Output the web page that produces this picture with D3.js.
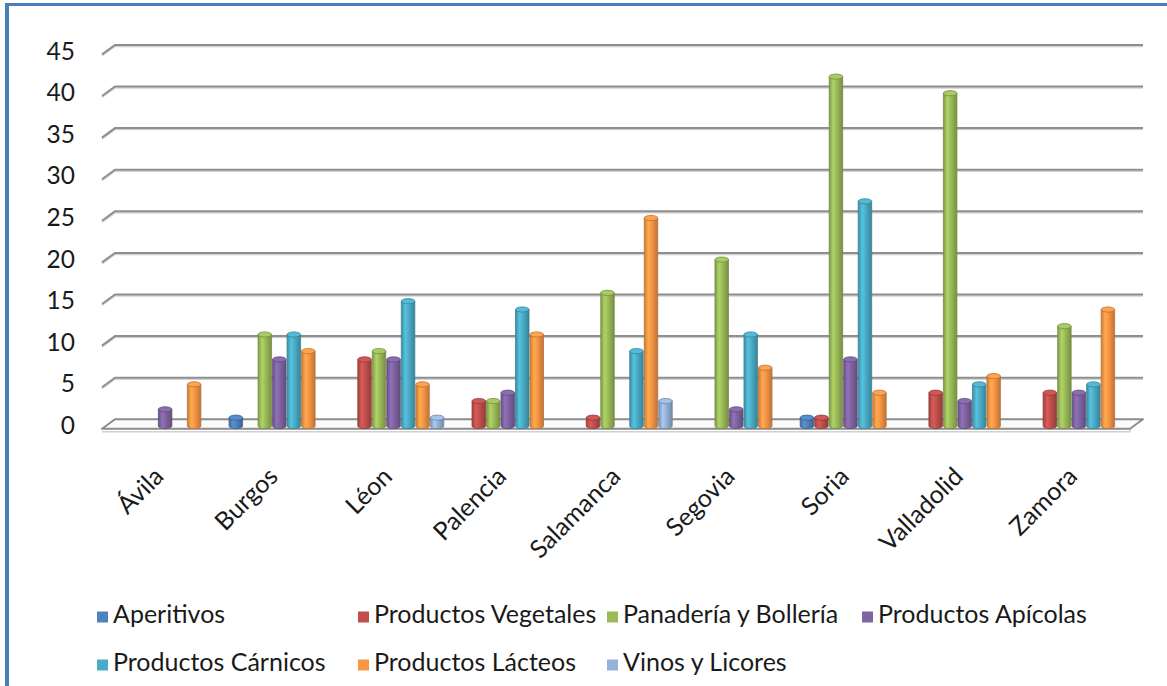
<!DOCTYPE html>
<html>
<head>
<meta charset="utf-8">
<script src="https://cdn.jsdelivr.net/npm/d3@7"></script>
<style>
  html, body { margin: 0; padding: 0; background: #fff; }
  svg text { font-family: Lato, "Open Sans", "Noto Sans", sans-serif; fill: #1a1a1a; }
</style>
</head>
<body>
<svg id="chart" width="1167" height="686"></svg>
<script>
// Provinces of Castilla y León
const provinces = ["Ávila", "Burgos", "Léon", "Palencia", "Salamanca", "Segovia", "Soria", "Valladolid", "Zamora"];

// Product families (legend order)
const productTypes = ["Aperitivos", "Productos Vegetales", "Panadería y Bollería", "Productos Apícolas",
                      "Productos Cárnicos", "Productos Lácteos", "Vinos y Licores"];

// Number of products per province, one array per family
const aperitivos  = [0, 1, 0, 0, 0, 0, 1, 0, 0];
const vegetales   = [0, 0, 8, 3, 1, 0, 1, 4, 4];
const panaderia   = [0, 11, 9, 3, 16, 20, 42, 40, 12];
const apicolas    = [2, 8, 8, 4, 0, 2, 8, 3, 4];
const carnicos    = [0, 11, 15, 14, 9, 11, 27, 5, 5];
const lacteos     = [5, 9, 5, 11, 25, 7, 4, 6, 14];
const vinos       = [0, 0, 1, 0, 3, 0, 0, 0, 0];

const yTicks = [0, 5, 10, 15, 20, 25, 30, 35, 40, 45];

const seriesValues = [aperitivos, vegetales, panaderia, apicolas, carnicos, lacteos, vinos];
const seriesColors = ["#4F81BD", "#C0504D", "#9BBB59", "#8064A2", "#4BACC6", "#F79646", "#95B3D7"];

const svg = d3.select("#chart");
const defs = svg.append("defs");

// frame
svg.append("rect").attr("width", 1167).attr("height", 686).attr("fill", "#fff");
svg.append("line").attr("x1", 5).attr("x2", 1167).attr("y1", 4.5).attr("y2", 4.5)
  .attr("stroke", "#4a7ebb").attr("stroke-width", 3);
svg.append("line").attr("x1", 7).attr("x2", 7).attr("y1", 3).attr("y2", 686)
  .attr("stroke", "#4a7ebb").attr("stroke-width", 4);

// 3D plot geometry: back wall, and the floor depth offset
const backLeft = 115, backRight = 1143;
const depthX = -13, depthY = 9.5;

const y = d3.scaleLinear().domain([0, 45]).range([419.3, 44.9]);

const x0 = d3.scaleBand().domain(provinces).range([108, 1136]).paddingInner(0).paddingOuter(0);
const x1 = d3.scaleBand().domain(productTypes).range([0, x0.bandwidth()])
  .paddingInner(0.07).paddingOuter(0.473);

// floor slab
const floor = svg.append("g");
floor.append("path")
  .attr("d", `M${backLeft + depthX},${y(0) + depthY + 3} L${backRight + depthX},${y(0) + depthY + 3} L${backRight + depthX},${y(0) + depthY}`)
  .attr("fill", "none").attr("stroke", "#d0d0d0").attr("stroke-width", 1.5);
floor.append("path")
  .attr("d", `M${backLeft + depthX},${y(0) + depthY} L${backRight + depthX},${y(0) + depthY} L${backRight},${y(0)} L${backLeft},${y(0)} Z`)
  .attr("fill", "#fbfbfb").attr("stroke", "#8c8c8c").attr("stroke-width", 2).attr("stroke-linejoin", "round");

// gridlines with a left-wall stub
const grid = svg.append("g");
yTicks.filter(t => t > 0).forEach(t => {
  const yy = y(t);
  grid.append("path")
    .attr("d", `M${backLeft + depthX},${yy + depthY + 1.5} L${backLeft},${yy + 1.5} L${backRight},${yy + 1.5}`)
    .attr("fill", "none").attr("stroke", "#d2d2d2").attr("stroke-width", 1.5);
  grid.append("path")
    .attr("d", `M${backLeft + depthX},${yy + depthY} L${backLeft},${yy} L${backRight},${yy}`)
    .attr("fill", "none").attr("stroke", "#8e8e8e").attr("stroke-width", 2);
});

// y tick labels
svg.append("g").selectAll("text").data(yTicks).join("text")
  .attr("x", 75).attr("y", d => y(d) + depthY - 1)
  .attr("text-anchor", "end").attr("dominant-baseline", "middle")
  .attr("font-size", 24.5).text(d => d);

// cylinder shading per family
seriesColors.forEach((c, i) => {
  const base = d3.color(c);
  const g = defs.append("linearGradient").attr("id", "cyl" + i)
    .attr("x1", "0%").attr("x2", "100%").attr("y1", "0%").attr("y2", "0%");
  [[0, base.darker(0.55)], [0.3, base.brighter(0.35)], [0.55, base], [1, base.darker(0.75)]]
    .forEach(([o, col]) => g.append("stop").attr("offset", o).attr("stop-color", col.formatHex()));
});

// bars drawn as cylinders, sitting mid-depth on the floor
const barShift = 6.7;
const ry = 2.6;
const bars = [];
provinces.forEach((p, pi) => {
  productTypes.forEach((s, si) => {
    const v = seriesValues[si][pi];
    if (v > 0) bars.push({ p, s, si, v });
  });
});

const barG = svg.append("g");
bars.forEach(b => {
  const w = x1.bandwidth();
  const left = x0(b.p) + x1(b.s);
  const top = y(b.v) + barShift;
  const bot = y(0) + barShift;
  const base = d3.color(seriesColors[b.si]);
  const edge = base.darker(0.8).formatHex();
  barG.append("path")
    .attr("d", `M${left},${top} L${left},${bot} A${w / 2},${ry} 0 0 0 ${left + w},${bot} L${left + w},${top} Z`)
    .attr("fill", `url(#cyl${b.si})`).attr("stroke", edge).attr("stroke-width", 0.8);
  barG.append("ellipse")
    .attr("cx", left + w / 2).attr("cy", top).attr("rx", w / 2).attr("ry", ry)
    .attr("fill", base.brighter(0.25).formatHex()).attr("stroke", edge).attr("stroke-width", 0.8);
});

// category labels
svg.append("g").selectAll("text").data(provinces).join("text")
  .attr("transform", d => `translate(${x0(d) + x0.bandwidth() / 2},478) rotate(-45)`)
  .attr("text-anchor", "end").attr("font-size", 25).text(d => d);

// legend
const legendPos = [
  { x: 97, y: 617 }, { x: 358, y: 617 }, { x: 607, y: 617 }, { x: 862, y: 617 },
  { x: 97, y: 665 }, { x: 358, y: 665 }, { x: 607, y: 665 }
];
const legend = svg.append("g");
productTypes.forEach((s, i) => {
  const pos = legendPos[i];
  legend.append("rect").attr("x", pos.x).attr("y", pos.y - 5.5).attr("width", 11).attr("height", 11)
    .attr("fill", seriesColors[i]);
  legend.append("text").attr("x", pos.x + 16).attr("y", pos.y)
    .attr("dominant-baseline", "middle").attr("font-size", 25).text(s);
});
</script>
</body>
</html>
